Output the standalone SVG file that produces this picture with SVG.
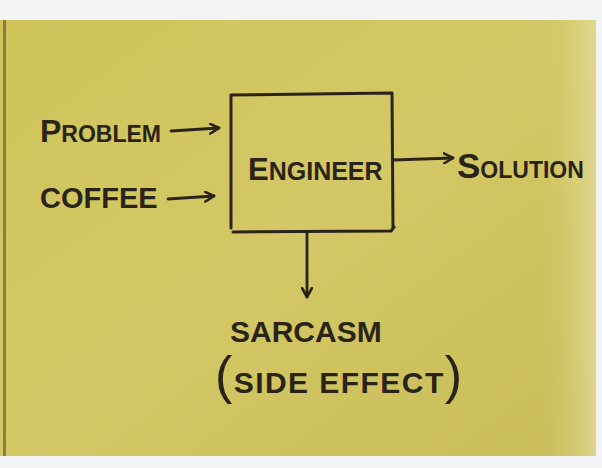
<svg xmlns="http://www.w3.org/2000/svg" width="602" height="468" viewBox="0 0 602 468">
  <defs>
    <linearGradient id="paper" x1="0" y1="0" x2="1" y2="1">
      <stop offset="0" stop-color="#cfc35a"/>
      <stop offset="0.5" stop-color="#d3c865"/>
      <stop offset="1" stop-color="#c9bc58"/>
    </linearGradient>
    <linearGradient id="rightEdge" x1="0" y1="0" x2="1" y2="0">
      <stop offset="0" stop-color="#d4ca6c" stop-opacity="0"/>
      <stop offset="1" stop-color="#e2dc9c" stop-opacity="0.8"/>
    </linearGradient>
    <marker id="arrow" viewBox="0 0 12 12" refX="10" refY="6" markerWidth="12" markerHeight="12" markerUnits="userSpaceOnUse" orient="auto">
      <path d="M1,1 L10,6 L1,11" fill="none" stroke="#2a2418" stroke-width="2.6" stroke-linecap="round" stroke-linejoin="round"/>
    </marker>
    <style>
      .ink { stroke: #2a2418; stroke-width: 3; fill: none; stroke-linecap: round; stroke-linejoin: round; }
      .conn { stroke: #2a2418; stroke-width: 2.8; fill: none; stroke-linecap: round; marker-end: url(#arrow); }
      .lbl { font-family: "Liberation Sans", Arial, sans-serif; font-weight: bold; fill: #2a2418; }
      .paren { font-weight: normal; }
    </style>
  </defs>

  <rect x="0" y="0" width="602" height="468" fill="#f3f4f6"/>
  <rect x="0" y="20" width="596" height="436" fill="url(#paper)"/>
  <rect x="540" y="20" width="56" height="436" fill="url(#rightEdge)"/>
  <rect x="3" y="20" width="3" height="436" fill="#6b5f3a" opacity="0.7"/>

  <g id="engineer">
    <path class="ink" d="M231,95 L391,93 M231,95 L231,228 M392,93 L393,228 M233,232 L391,231 L394,227"/>
    <text class="lbl" x="248" y="180" font-size="25"><tspan font-size="31">E</tspan>NGINEER</text>
  </g>

  <g id="problem">
    <text class="lbl" x="40" y="142" font-size="23"><tspan font-size="32">P</tspan>ROBLEM</text>
  </g>

  <g id="coffee">
    <text class="lbl" x="40" y="208" font-size="29">COFFEE</text>
  </g>

  <g id="solution">
    <text class="lbl" x="457" y="178" font-size="23"><tspan font-size="35">S</tspan>OLUTION</text>
  </g>

  <g id="sarcasm">
    <text class="lbl" x="230" y="342" font-size="30">SARCASM</text>
    <text class="lbl" x="215" y="393" font-size="30" textLength="247" lengthAdjust="spacing"><tspan class="paren" font-size="52">(</tspan>SIDE EFFECT<tspan class="paren" font-size="52">)</tspan></text>
  </g>

  <g id="connectors">
    <path class="conn" d="M171,131 L219,128"/>
    <path class="conn" d="M168,199 L214,196"/>
    <path class="conn" d="M393,160 L453,158"/>
    <path class="conn" d="M307,233 L307,297"/>
  </g>
</svg>
